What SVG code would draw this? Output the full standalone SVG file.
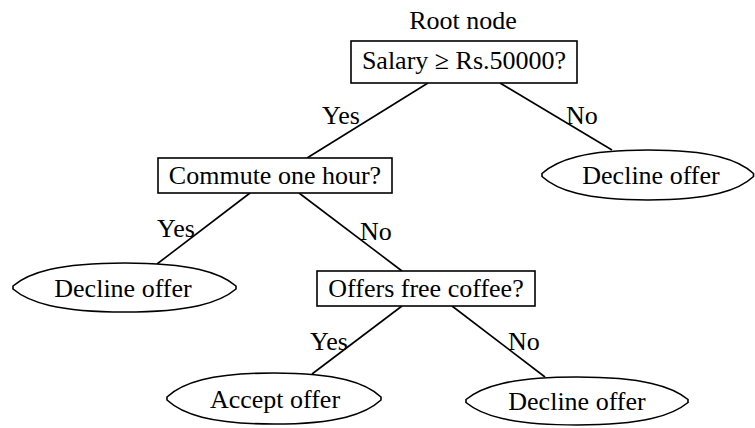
<svg xmlns="http://www.w3.org/2000/svg" width="755" height="428" viewBox="0 0 755 428">
<style>
text{font-family:"Liberation Serif","Times New Roman",serif;font-size:26px;fill:#000}
.c{text-anchor:middle}
.box{fill:#fff;stroke:#000;stroke-width:1.6}
.ell{fill:#fff;stroke:#000;stroke-width:1.6}
.edge{stroke:#000;stroke-width:1.6;fill:none}
</style>
<rect width="755" height="428" fill="#fff"/>
<g id="connectors">
<line class="edge" x1="428" y1="83" x2="307" y2="158"/>
<line class="edge" x1="500" y1="83" x2="612" y2="150"/>
<line class="edge" x1="250" y1="193" x2="157" y2="264"/>
<line class="edge" x1="299" y1="193" x2="402" y2="271"/>
<line class="edge" x1="402" y1="306" x2="312" y2="374"/>
<line class="edge" x1="452" y1="306" x2="545" y2="377"/>
<text x="322" y="124">Yes</text>
<text x="566" y="124">No</text>
<text x="157" y="237">Yes</text>
<text x="360" y="240">No</text>
<text x="310" y="350">Yes</text>
<text x="508" y="350">No</text>
</g>
<g id="root-label"><text class="c" x="463" y="29">Root node</text></g>
<g id="root">
<rect class="box" x="351" y="41" width="226" height="42"/>
<text class="c" x="464" y="69">Salary ≥ Rs.50000?</text>
</g>
<g id="commute">
<rect class="box" x="158" y="158" width="234" height="35"/>
<text class="c" x="275" y="184">Commute one hour?</text>
</g>
<g id="coffee">
<rect class="box" x="317" y="271" width="218" height="35"/>
<text class="c" x="426" y="297">Offers free coffee?</text>
</g>
<g id="decline1">
<path class="ell" d="M542,173.5 C556.8,160 584.4,150 648,150 C711.6,150 739.2,160 753.5,173.5 L753.5,176.5 C739.2,190 711.6,200 648,200 C584.4,200 556.8,190 542,176.5 Z"/>
<text class="c" x="651" y="184">Decline offer</text>
</g>
<g id="decline2">
<path class="ell" d="M13,286 C28.6,272.8 57.6,263 124.5,263 C191.4,263 220.4,272.8 236,286 L236,289 C220.4,302.2 191.4,312 124.5,312 C57.6,312 28.6,302.2 13,289 Z"/>
<text class="c" x="123" y="297">Decline offer</text>
</g>
<g id="accept">
<path class="ell" d="M167,397 C182,383.2 209.8,373 274,373 C338.2,373 366,383.2 381,397 L381,400 C366,413.8 338.2,424 274,424 C209.8,424 182,413.8 167,400 Z"/>
<text class="c" x="275" y="408">Accept offer</text>
</g>
<g id="decline3">
<path class="ell" d="M466,399.5 C481.5,386.6 510.4,377 577,377 C643.6,377 672.5,386.6 688,399.5 L688,402.5 C672.5,415.4 643.6,425 577,425 C510.4,425 481.5,415.4 466,402.5 Z"/>
<text class="c" x="577" y="410">Decline offer</text>
</g>
</svg>
